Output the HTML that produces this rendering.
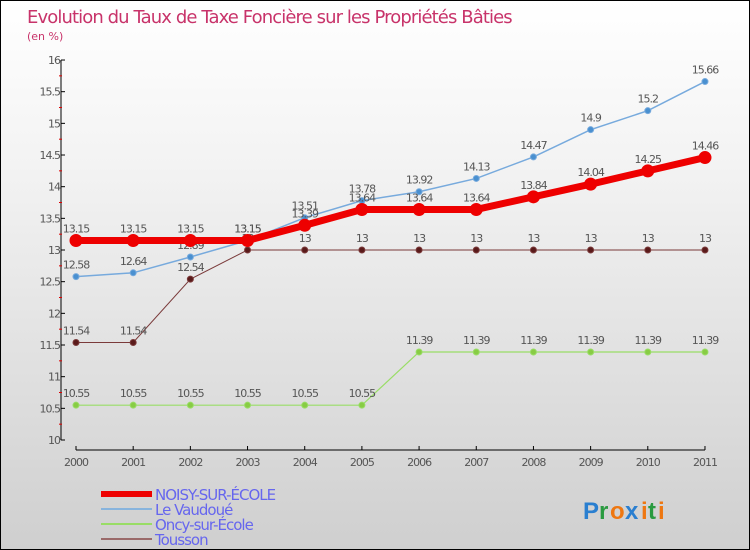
<!DOCTYPE html>
<html><head><meta charset="utf-8"><style>
body{margin:0;}
#c{width:748px;height:548px;border:1px solid #000;background:linear-gradient(#fff,#f3f3f3 30%,#cfcfcf);position:relative;overflow:hidden;font-family:"DejaVu Sans","Liberation Sans",sans-serif;}
svg{position:absolute;left:0;top:0}
</style></head><body>
<div id="c">
<svg id="s" width="748" height="548">
<text x="26" y="22" font-size="18" fill="#c8336a" font-family="DejaVu Sans, sans-serif" letter-spacing="-0.9">Evolution du Taux de Taxe Foncière sur les Propriétés Bâties</text>
<text x="26" y="39" font-size="11" fill="#c8336a">(en %)</text>
</svg>
</div>
<script>
const years=[2000,2001,2002,2003,2004,2005,2006,2007,2008,2009,2010,2011];
const yTicks=[10,10.5,11,11.5,12,12.5,13,13.5,14,14.5,15,15.5,16];
const noisy=[13.15,13.15,13.15,13.15,13.39,13.64,13.64,13.64,13.84,14.04,14.25,14.46];
const vaudoue=[12.58,12.64,12.89,13.15,13.51,13.78,13.92,14.13,14.47,14.9,15.2,15.66];
const oncy=[10.55,10.55,10.55,10.55,10.55,10.55,11.39,11.39,11.39,11.39,11.39,11.39];
const tousson=[11.54,11.54,12.54,13,13,13,13,13,13,13,13,13];
const NS='http://www.w3.org/2000/svg',s=document.getElementById('s');
const X=i=>75+i*57.18, Y=v=>439-(v-10)*63.33;
function el(t,a,p){const e=document.createElementNS(NS,t);for(const k in a)e.setAttribute(k,a[k]);(p||s).appendChild(e);return e;}
let e;
e=el('line',{x1:60,y1:Y(16),x2:60,y2:Y(10),stroke:'#000'});


e=el('line',{x1:75,y1:449,x2:X(11),y2:449,stroke:'#000'});


yTicks.forEach((v,i)=>{
 el('line',{x1:60,y1:Y(v),x2:64,y2:Y(v),stroke:'#000'});
 if(i<yTicks.length-1)el('line',{x1:58,y1:Y(v+0.25),x2:61,y2:Y(v+0.25),stroke:'#d00'});
 e=el('text',{x:59,y:Y(v)+4,'font-size':11,fill:'#555','text-anchor':'end','letter-spacing':'-1'});
 e.textContent=v;
 
 
});
years.forEach((y,i)=>{
 el('line',{x1:X(i),y1:445,x2:X(i),y2:449,stroke:'#000'});
 e=el('text',{x:X(i),y:465,'font-size':11,fill:'#555','text-anchor':'middle','letter-spacing':'-1'});
 e.textContent=y;
 
 
});
function series(d,col,w,r,fill,name){
 e=el('polyline',{points:d.map((v,i)=>X(i)+','+Y(v)).join(' '),fill:'none',stroke:col,'stroke-width':w});
 
 
 d.forEach((v,i)=>{
  e=el('circle',{cx:X(i),cy:Y(v),r:r,fill:fill,stroke:col,'stroke-width':1});
  
  
  e=el('text',{x:X(i),y:Y(v)-8,'font-size':11,fill:'#555','text-anchor':'middle','letter-spacing':'-1'});
  e.textContent=v;
  
  
 });
}
series(tousson,'#7a3a3a',1,3,'#5a1a1a','tousson');
series(oncy,'#99dd66',1.2,3,'#88cc44','oncy');
series(vaudoue,'#77aadd',1.5,3,'#4a90d0','vaudoue');
series(noisy,'#ee0000',7,6,'#ee0000','noisy');
const leg=[['NOISY-SUR-ÉCOLE','#ee0000',6],['Le Vaudoué','#88b4dd',2],['Oncy-sur-École','#99dd66',2],['Tousson','#9a6a6a',2]];
leg.forEach((l,i)=>{
 const y=493+i*15;
 e=el('line',{x1:100,y1:y,x2:151,y2:y,stroke:l[1],'stroke-width':l[2]});
 
 
 e=el('text',{x:154,y:y+6,'font-size':15,fill:'#6666ee','letter-spacing':'-1'});
 e.textContent=l[0];
 
 
});
const logo=[['P','#2a7fd0'],['r','#2a9a40'],['o','#ee7711'],['x','#2a7fd0'],['i','#ee7711'],['t','#2a9a40'],['i','#ee7711']];
let lx=582;
const lw=[16,11,15,16,7,10,7];
logo.forEach((c,i)=>{
 e=el('text',{x:lx,y:518,'font-size':24,'font-weight':'bold',fill:c[1],'font-family':'Liberation Sans, sans-serif'});
 e.textContent=c[0];
 
 
 lx+=lw[i];
});
</script>
</body></html>
